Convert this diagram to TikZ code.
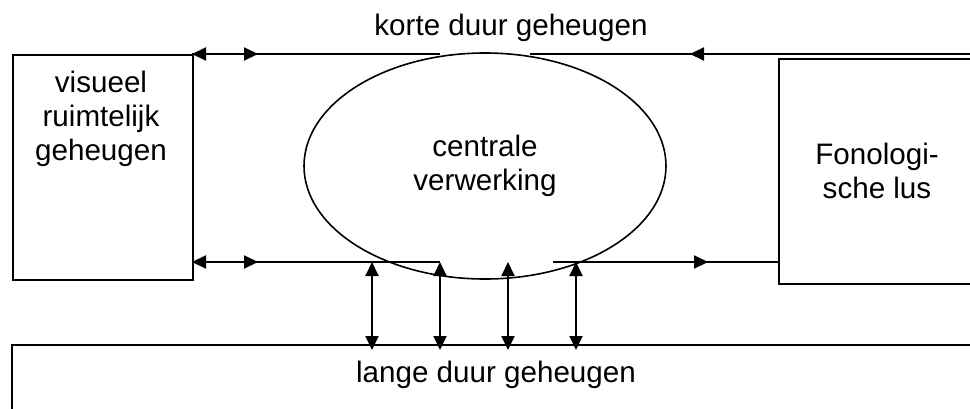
\documentclass[tikz,border=0pt]{standalone}
\usepackage{fontspec}
\setmainfont{Liberation Sans}
\usetikzlibrary{arrows.meta,shapes.geometric}
\begin{document}
\begin{tikzpicture}[x=1pt,y=-1pt,
  lbl/.style={font=\fontsize{29.6}{34}\selectfont, align=center, inner sep=0pt},
  conn/.style={line width=2pt},
  arr/.style={line width=2pt,-{Triangle[length=14pt,width=13pt]}},
  dbl/.style={line width=2pt,{Triangle[length=14pt,width=13pt]}-{Triangle[length=14pt,width=13pt]}},
  frame/.style={draw, line width=1.6pt, inner sep=0pt, anchor=north west}]
\useasboundingbox (0,0) rectangle (970,408);

% boxes
\node[frame, minimum width=180pt, minimum height=225pt] (vis) at (12,54) {};
\node[frame, minimum width=260pt, minimum height=225pt] (fon) at (778,58) {};
\node[frame, minimum width=1000pt, minimum height=120pt] (ltm) at (11,344) {};
\node[draw, ellipse, line width=1.6pt, inner sep=0pt, minimum width=362pt, minimum height=226pt, lbl] (cv) at (485,166) {centrale\\verwerking};

% labels
\node[lbl, anchor=base] (kdg) at (511,35) {korte duur geheugen};
\node[lbl, anchor=base] (ldg) at (496,382) {lange duur geheugen};
\node[lbl] (vislbl) at (101,118.5) {visueel\\ruimtelijk\\geheugen};
\node[lbl] (fonlbl) at (877,171) {Fonologi-\\sche lus};

% coordinates
\coordinate (tl1) at (192,54);
\coordinate (tl2) at (258,54);
\coordinate (tl3) at (440,54);
\coordinate (tr1) at (530,54);
\coordinate (tr2) at (690,54);
\coordinate (tr3) at (975,54);
\coordinate (bl1) at (192,262);
\coordinate (bl2) at (258,262);
\coordinate (bl3) at (440,262);
\coordinate (br1) at (553,262);
\coordinate (br2) at (708,262);
\coordinate (br3) at (778,262);
\foreach \i/\x in {1/372,2/440,3/508,4/576}{
  \coordinate (va\i) at (\x,262);
  \coordinate (vb\i) at (\x,350);
}

% top connectors
\draw[conn] (tl1) -- (tl3);
\draw[arr] (tl3) -- (tl1);
\draw[arr] (tl1) -- (tl2);
\draw[conn] (tr1) -- (tr3);
\draw[arr] (tr3) -- (tr2);

% bottom connectors
\draw[conn] (bl1) -- (bl3);
\draw[arr] (bl3) -- (bl1);
\draw[arr] (bl1) -- (bl2);
\draw[conn] (br1) -- (br3);
\draw[arr] (br1) -- (br2);

% vertical double arrows
\foreach \i in {1,2,3,4}{
  \draw[dbl] (va\i) -- (vb\i);
}
\end{tikzpicture}
\end{document}
